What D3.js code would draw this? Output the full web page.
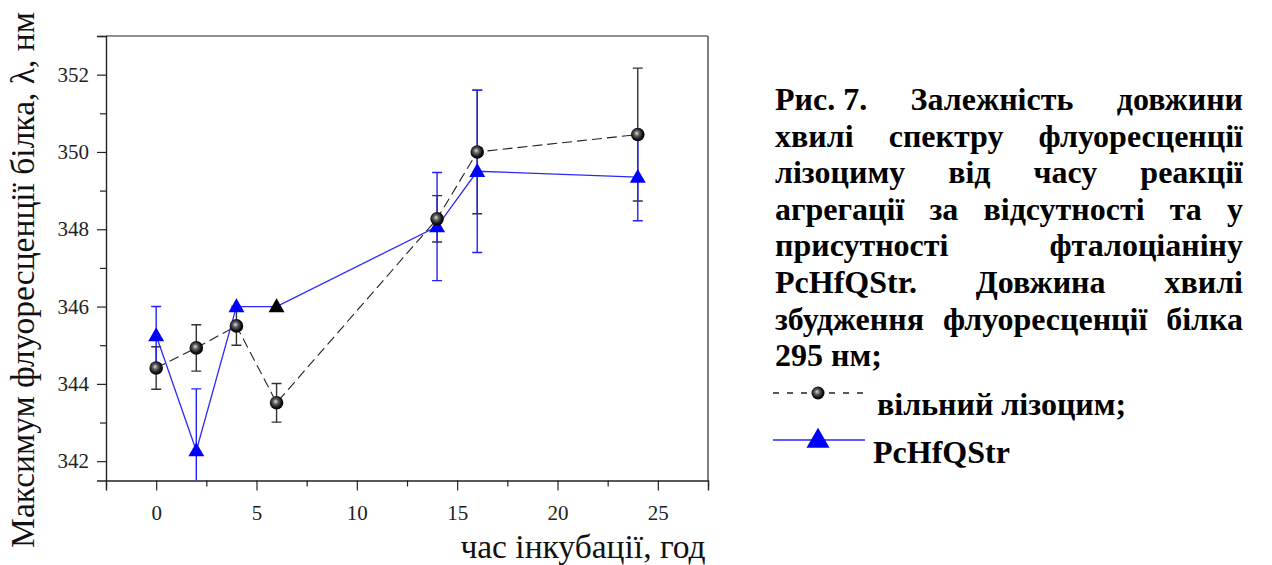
<!DOCTYPE html>
<html><head><meta charset="utf-8">
<script src="https://cdn.jsdelivr.net/npm/d3@7"></script>
<style>
html,body{margin:0;padding:0;background:#fff;}
svg{display:block;}
svg text{font-family:"Liberation Serif","Times New Roman","DejaVu Serif",serif !important;}
</style></head>
<body>
<svg id="chart" width="1272" height="565"></svg>
<script>
// ---- data ----
const hours = [0, 2, 4, 6, 14, 16, 24];
const freeLysozyme = [344.41, 344.93, 345.5, 343.51, 348.27, 350.0, 350.45];
const freeLysozymeErr = [0.55, 0.6, 0.5, 0.5, 0.6, 1.6, 1.72];
const pcHfQStr = [345.25, 342.27, 346.0, 346.0, 348.07, 349.5, 349.35];
const pcHfQStrErr = [0.75, 1.6, 0, 0, 1.4, 2.1, 1.13];
const xTicks = [0, 5, 10, 15, 20, 25];
const xMinorTicks = [-2.5, 2.5, 7.5, 12.5, 17.5, 22.5, 27.5];
const yTicks = [342, 344, 346, 348, 350, 352];
const yMinorTicks = [343, 345, 347, 349, 351, 353];
const xTitle = "час інкубації, год";
const yTitle = "Максимум флуоресценції білка, λ, нм";
const captionLines = [
  ["Рис. 7.", "Залежність", "довжини"],
  ["хвилі", "спектру", "флуоресценції"],
  ["лізоциму", "від", "часу", "реакції"],
  ["агрегації", "за", "відсутності", "та", "у"],
  ["присутності", "фталоціаніну"],
  ["PcHfQStr.", "Довжина", "хвилі"],
  ["збудження", "флуоресценції", "білка"],
  ["295 нм;"]
];
const legendLabels = ["вільний лізоцим;", "PcHfQStr"];

// ---- layout ----
const FONT = "'Liberation Serif', 'Times New Roman', 'DejaVu Serif', serif";
const svg = d3.select("#chart").style("font-family", FONT);
const L = 106, R = 708, T = 36, B = 480.5;
const x = d3.scaleLinear().domain([-2.5, 27.5]).range([L, R]);
const y = d3.scaleLinear().domain([341.5, 353]).range([B, T]);

const defs = svg.append("defs");
const grad = defs.append("radialGradient").attr("id", "ball")
  .attr("cx", "45%").attr("cy", "45%").attr("r", "60%").attr("fx", "42%").attr("fy", "40%");
grad.append("stop").attr("offset", "0%").attr("stop-color", "#e0e0e0");
grad.append("stop").attr("offset", "30%").attr("stop-color", "#666");
grad.append("stop").attr("offset", "70%").attr("stop-color", "#111");
grad.append("stop").attr("offset", "100%").attr("stop-color", "#000");
defs.append("clipPath").attr("id", "plotclip").append("rect")
  .attr("x", L).attr("y", T).attr("width", R - L).attr("height", B - T);

// frame
svg.append("line").attr("x1", L).attr("x2", R).attr("y1", T).attr("y2", T).attr("stroke", "#222").attr("stroke-width", 1.2);
svg.append("line").attr("x1", R).attr("x2", R).attr("y1", T).attr("y2", B).attr("stroke", "#555").attr("stroke-width", 1.5);

// axes
const xAxis = svg.append("g").attr("transform", `translate(0,${B})`)
  .call(d3.axisBottom(x).tickValues(xTicks).tickSize(10).tickPadding(15).tickFormat(d3.format("d")));
const xMinor = svg.append("g").attr("transform", `translate(0,${B})`)
  .call(d3.axisBottom(x).tickValues(xMinorTicks).tickSize(6).tickFormat(""));
const yAxis = svg.append("g").attr("transform", `translate(${L},0)`)
  .call(d3.axisLeft(y).tickValues(yTicks).tickSize(9).tickPadding(8).tickFormat(d3.format("d")));
const yMinor = svg.append("g").attr("transform", `translate(${L},0)`)
  .call(d3.axisLeft(y).tickValues(yMinorTicks).tickSize(6).tickFormat(""));
[xAxis, xMinor, yAxis, yMinor].forEach(g => {
  g.attr("font-family", null).style("font-family", FONT);
  g.select(".domain").attr("stroke", "#222").attr("stroke-width", 1.4);
  g.selectAll(".tick line").attr("stroke", "#222").attr("stroke-width", 1.2);
  g.selectAll(".tick text").style("font-family", FONT).attr("font-size", 21).attr("fill", "#222");
});
xMinor.select(".domain").remove();
yMinor.select(".domain").remove();

// titles
svg.append("text").attr("x", 583).attr("y", 558).attr("text-anchor", "middle")
  .style("font-family", FONT).attr("font-size", 33.5).attr("fill", "#111").text(xTitle);
svg.append("text").attr("transform", "translate(34,280) rotate(-90)").attr("text-anchor", "middle")
  .style("font-family", FONT).attr("font-size", 33.5).attr("fill", "#111").text(yTitle);

const plot = svg.append("g").attr("clip-path", "url(#plotclip)");

function errBars(vals, errs, color, width) {
  const g = plot.append("g").attr("stroke", color).attr("stroke-width", width).attr("fill", "none");
  hours.forEach((h, i) => {
    const e = errs[i];
    if (!e) return;
    const cx = x(h), y1 = y(vals[i] + e), y2 = y(vals[i] - e);
    g.append("line").attr("x1", cx).attr("x2", cx).attr("y1", y1).attr("y2", y2);
    g.append("line").attr("x1", cx - 5).attr("x2", cx + 5).attr("y1", y1).attr("y2", y1);
    g.append("line").attr("x1", cx - 5).attr("x2", cx + 5).attr("y1", y2).attr("y2", y2);
  });
}

const line = vals => d3.line().x((d, i) => x(hours[i])).y(d => y(d))(vals);

// black series
errBars(freeLysozyme, freeLysozymeErr, "#333", 1.4);
plot.append("path").attr("d", line(freeLysozyme)).attr("fill", "none")
  .attr("stroke", "#222").attr("stroke-width", 1.1).attr("stroke-dasharray", "10,5");
// blue series
errBars(pcHfQStr, pcHfQStrErr, "#2222ff", 1.4);
plot.append("path").attr("d", line(pcHfQStr)).attr("fill", "none")
  .attr("stroke", "#2a2aff").attr("stroke-width", 1.3);

// markers
const tri = d3.symbol().type(d3.symbolTriangle).size(110);
plot.selectAll(".tri").data(pcHfQStr).enter().append("path")
  .attr("d", tri)
  .attr("transform", (d, i) => `translate(${x(hours[i])},${y(d) + 1})`)
  .attr("fill", (d, i) => i === 3 ? "#000" : "#0000ff");
plot.selectAll(".ball").data(freeLysozyme).enter().append("circle")
  .attr("cx", (d, i) => x(hours[i])).attr("cy", d => y(d)).attr("r", 6.8)
  .attr("fill", "url(#ball)");

// caption (justified)
const capX0 = 775, capX1 = 1243, capY0 = 110, lh = 36.6;
captionLines.forEach((words, li) => {
  const yy = capY0 + li * lh;
  const nodes = words.map(w => svg.append("text").attr("y", yy).attr("font-size", 32)
    .style("font-family", FONT).attr("font-weight", "bold").attr("fill", "#000").text(w));
  const widths = nodes.map(n => n.node().getComputedTextLength());
  const sum = d3.sum(widths);
  const last = li === captionLines.length - 1;
  const gap = (!last && words.length > 1) ? (capX1 - capX0 - sum) / (words.length - 1) : 8;
  let cx = capX0;
  nodes.forEach((n, k) => { n.attr("x", cx); cx += widths[k] + gap; });
});

// legend
const lg = svg.append("g");
lg.append("line").attr("x1", 773).attr("x2", 868).attr("y1", 393).attr("y2", 393)
  .attr("stroke", "#222").attr("stroke-width", 1.4).attr("stroke-dasharray", "6,8");
lg.append("circle").attr("cx", 818).attr("cy", 393).attr("r", 6.5).attr("fill", "url(#ball)");
lg.append("text").attr("x", 877).attr("y", 415).attr("font-size", 32).attr("font-weight", "bold")
  .style("font-family", FONT).text(legendLabels[0]);
lg.append("line").attr("x1", 773).attr("x2", 865).attr("y1", 440).attr("y2", 440)
  .attr("stroke", "#2a2aff").attr("stroke-width", 1.6);
lg.append("path").attr("d", d3.symbol().type(d3.symbolTriangle).size(230)())
  .attr("transform", "translate(818,441)").attr("fill", "#0000ff");
lg.append("text").attr("x", 873).attr("y", 463).attr("font-size", 32).attr("font-weight", "bold")
  .style("font-family", FONT).text(legendLabels[1]);
</script>
</body></html>
